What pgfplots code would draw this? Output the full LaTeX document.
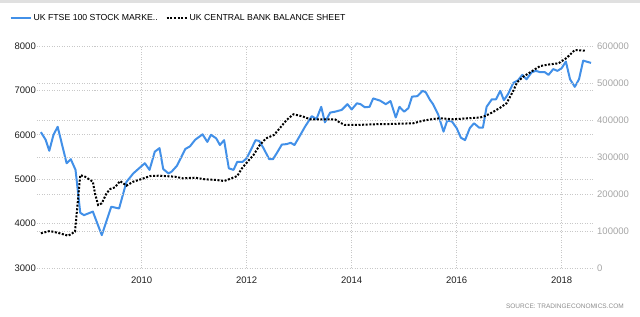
\documentclass[border=0pt]{standalone}
\usepackage{fontspec}
\setmainfont{Liberation Sans}
\usepackage{pgfplots}
\pgfplotsset{compat=1.18}
\definecolor{ftse}{RGB}{66,144,232}
\definecolor{gridc}{RGB}{200,200,200}
\definecolor{rlab}{RGB}{165,165,165}
\definecolor{srcc}{RGB}{140,140,140}
\definecolor{lab}{RGB}{30,30,30}
\begin{document}
\begin{tikzpicture}
\path[use as bounding box] (-37pt,-48pt) rectangle (603pt,268pt);
\fill[black!12] (-37pt,265pt) rectangle (603pt,268pt);
\pgfplotsset{
  base/.style={scale only axis, width=556pt, height=222pt,
    xmin=2008.006, xmax=2018.597,
    axis line style={draw=none}, major tick length=0pt,
    /pgf/number format/assume math mode=true,
    /pgf/number format/1000 sep={},
    grid style={gridc, line width=0.8pt, dash pattern=on 1pt off 1.5pt},
  }
}
\begin{axis}[base,
  ymin=3000, ymax=8000, ytick={3000,4000,5000,6000,7000,8000},
  yticklabels={3000,4000,5000,6000,7000,8000},
  xtick={2010,2012,2014,2016,2018},
  xticklabels={2010,2012,2014,2016,2018},
  xmajorgrids, ymajorgrids,
  yticklabel style={font=\fontsize{9.5}{10}\selectfont, color=lab, anchor=east, inner sep=1pt},
  xticklabel style={font=\fontsize{9.5}{10}\selectfont, color=lab, anchor=north, inner sep=0pt, yshift=-8.5pt},
  legend style={draw=none, fill=none, at={(-0.055,1.126)}, anchor=west,
    font=\fontsize{8.7}{9}\selectfont, legend columns=2,
    /tikz/every even column/.append style={column sep=6pt}},
  legend image code/.code={\draw[#1] (0pt,0pt) -- (20pt,0pt);},
]
\addplot[ftse, line width=2pt, line join=round] coordinates {
(2008.08,6060) (2008.17,5890) (2008.24,5640) (2008.32,6000) (2008.40,6180)
(2008.57,5360) (2008.65,5450) (2008.74,5210) (2008.83,4245) (2008.90,4190)
(2009.07,4270) (2009.24,3740) (2009.42,4380) (2009.57,4340) (2009.71,4940)
(2009.84,5130) (2010.06,5360) (2010.15,5210) (2010.25,5620) (2010.34,5700)
(2010.41,5230) (2010.51,5130) (2010.57,5170) (2010.67,5300) (2010.83,5680)
(2010.92,5740) (2011.02,5890) (2011.16,6010) (2011.25,5840) (2011.32,6000)
(2011.42,5920) (2011.49,5770) (2011.57,5880) (2011.66,5245) (2011.75,5210)
(2011.82,5390) (2011.92,5390) (2012.00,5470) (2012.08,5660) (2012.17,5880)
(2012.24,5860) (2012.32,5700) (2012.43,5450) (2012.50,5450) (2012.57,5580)
(2012.67,5780) (2012.76,5790) (2012.84,5820) (2012.91,5770) (2012.99,5930)
(2013.11,6180) (2013.24,6420) (2013.33,6355) (2013.42,6630) (2013.49,6280)
(2013.59,6500) (2013.68,6520) (2013.81,6560) (2013.92,6690) (2014.00,6570)
(2014.10,6710) (2014.17,6690) (2014.25,6620) (2014.34,6630) (2014.41,6820)
(2014.54,6770) (2014.65,6690) (2014.74,6760) (2014.84,6390) (2014.91,6630)
(2015.00,6520) (2015.08,6600) (2015.15,6860) (2015.25,6870) (2015.35,6990)
(2015.41,6960) (2015.49,6790) (2015.55,6690) (2015.65,6450) (2015.75,6070)
(2015.82,6320) (2015.91,6300) (2016.00,6150) (2016.08,5935) (2016.16,5880)
(2016.25,6150) (2016.33,6260) (2016.43,6160) (2016.50,6160) (2016.57,6630)
(2016.67,6800) (2016.75,6800) (2016.83,6990) (2016.90,6780) (2016.98,6920)
(2017.08,7170) (2017.17,7230) (2017.25,7350) (2017.33,7250) (2017.43,7410)
(2017.51,7440) (2017.59,7410) (2017.68,7410) (2017.75,7350) (2017.84,7480)
(2017.92,7440) (2018.00,7500) (2018.08,7650) (2018.16,7250) (2018.25,7080)
(2018.33,7250) (2018.41,7670) (2018.56,7620)
};
\addlegendentry{UK FTSE 100 STOCK MARKE..}
\addlegendimage{black, line width=2pt, dash pattern=on 2pt off 1.6pt}
\addlegendentry{UK CENTRAL BANK BALANCE SHEET}
\end{axis}
\begin{axis}[base,
  ymin=0, ymax=600000, ytick={0,100000,200000,300000,400000,500000,600000},
  yticklabels={0,100000,200000,300000,400000,500000,600000},
  scaled y ticks=false, xtick=\empty,
  ymajorgrids, yticklabel pos=right,
  yticklabel style={font=\fontsize{9.5}{10}\selectfont, color=rlab, anchor=west, inner sep=1pt, xshift=3pt},
]
\addplot[black, line width=2pt, dash pattern=on 2pt off 1.6pt] coordinates {
(2008.08,93800) (2008.25,100000) (2008.44,93800) (2008.60,87300) (2008.73,98100)
(2008.83,251000) (2008.92,246800) (2009.07,233300) (2009.11,201800) (2009.17,170300)
(2009.24,174800) (2009.33,201800) (2009.40,213500) (2009.49,218000) (2009.59,235100)
(2009.71,222500) (2009.84,233300) (2010.00,240500) (2010.16,248600) (2010.34,249500)
(2010.63,246800) (2010.79,242300) (2011.02,244100) (2011.21,239600) (2011.43,237800)
(2011.57,235100) (2011.71,242300) (2011.82,248600) (2011.91,269400) (2012.00,284600)
(2012.13,305400) (2012.25,332400) (2012.37,350500) (2012.52,359500) (2012.63,377600)
(2012.76,400000) (2012.89,415400) (2013.00,412000) (2013.08,408900) (2013.21,401900)
(2013.46,401900) (2013.68,401900) (2013.78,392700) (2013.87,386500) (2014.10,386500)
(2014.41,388400) (2014.73,389200) (2015.17,391100) (2015.36,398100) (2015.55,402700)
(2015.68,404600) (2015.94,401900) (2016.19,404600) (2016.44,406500) (2016.54,410800)
(2016.67,419800) (2016.83,433300) (2016.95,445100) (2017.08,479300) (2017.15,501900)
(2017.27,517100) (2017.40,528900) (2017.59,545900) (2017.78,550500) (2017.94,553200)
(2018.10,568400) (2018.25,589200) (2018.44,587300)
};
\end{axis}
\node[anchor=east, font=\fontsize{6.5}{7}\selectfont, color=srcc, inner sep=0pt] at (587pt,-38pt) {SOURCE: TRADINGECONOMICS.COM};
\end{tikzpicture}
\end{document}
